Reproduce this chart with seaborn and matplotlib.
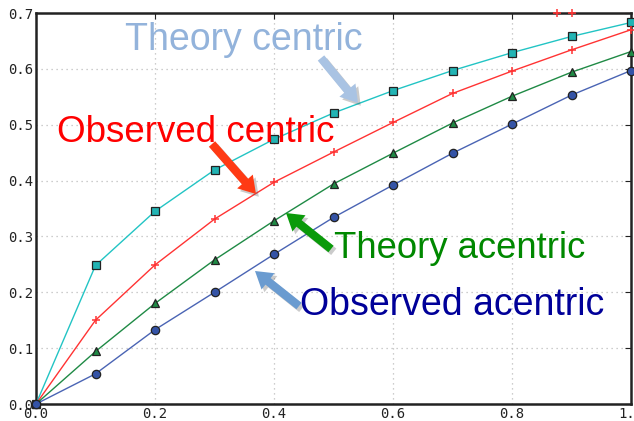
import matplotlib
matplotlib.use("Agg")
import matplotlib.pyplot as plt
import matplotlib.patheffects as pe
import seaborn as sns
import pandas as pd

x_vals = [0.0, 0.1, 0.2, 0.3, 0.4, 0.5, 0.6, 0.7, 0.8, 0.9, 1.0]
theory_centric = [0.0, 0.248, 0.345, 0.419, 0.474, 0.521, 0.561, 0.597, 0.629, 0.658, 0.683]
observed_centric = [0.0, 0.150, 0.249, 0.331, 0.397, 0.451, 0.504, 0.556, 0.596, 0.634, 0.670]
theory_acentric = [0.0, 0.094, 0.180, 0.258, 0.328, 0.394, 0.449, 0.503, 0.551, 0.594, 0.631]
observed_acentric = [0.0, 0.054, 0.133, 0.200, 0.268, 0.334, 0.392, 0.449, 0.501, 0.553, 0.597]
extra_x = [0.875, 0.9]
extra_y = [0.7, 0.7]

x_ticks = [0.0, 0.2, 0.4, 0.6, 0.8, 1.0]
x_tick_labels = ["0.0", "0.2", "0.4", "0.6", "0.8", "1.0"]
y_ticks = [0.0, 0.1, 0.2, 0.3, 0.4, 0.5, 0.6, 0.7]
y_tick_labels = ["0.0", "0.1", "0.2", "0.3", "0.4", "0.5", "0.6", "0.7"]

sns.set_style("white")
plt.rcParams["font.family"] = ["DejaVu Sans"]

fig = plt.figure(figsize=(6.34, 4.21), dpi=100)
ax = fig.add_axes([36 / 634, 17 / 421, 595 / 634, 391 / 421])

df = pd.DataFrame({"x": x_vals})
series = [
    (theory_centric, "#22c4c4", "s", "#22b4b4", 5.5),
    (observed_centric, "#ff3333", "+", "#ff3333", 6),
    (theory_acentric, "#1f8a45", "^", "#1f8a45", 6),
    (observed_acentric, "#4a64b4", "o", "#3453a6", 6),
]
for vals, lc, mk, mfc, ms in series:
    d = df.assign(y=vals)
    edge = mfc if mk == "+" else "#222222"
    sns.lineplot(data=d, x="x", y="y", ax=ax, color=lc, lw=1.0,
                 marker=mk, markersize=ms, markerfacecolor=mfc,
                 markeredgecolor=edge, markeredgewidth=0.9 if mk != "+" else 1.1,
                 clip_on=False, zorder=3)

ax.plot(extra_x, extra_y, "+", color="#ff3333", markersize=6, mew=1.1, clip_on=False, zorder=4)

ax.set_xlim(0, 1.0)
ax.set_ylim(0, 0.7)
ax.set_xticks(x_ticks)
ax.set_xticklabels(x_tick_labels)
ax.set_yticks(y_ticks)
ax.set_yticklabels(y_tick_labels)
ax.set_xlabel("")
ax.set_ylabel("")
for lab in ax.get_xticklabels() + ax.get_yticklabels():
    lab.set_fontfamily("DejaVu Sans Mono")
    lab.set_fontsize(10)
    lab.set_color("#222222")
ax.tick_params(direction="in", length=4, width=0.8, top=True, right=True, pad=2, colors="#222222")
ax.grid(True, ls=(0, (1, 3)), color="#bdbdbd", lw=0.9)
for sp in ax.spines.values():
    sp.set_visible(True)
    sp.set_color("#222222")
    sp.set_linewidth(1.8)

def fxy(px, py):
    return (px / 634, 1 - py / 421)

shadow = [pe.SimplePatchShadow(offset=(2, -2), alpha=0.3, shadow_rgbFace="#555555"), pe.Normal()]
arrows = [
    ((321, 58), (358, 103), "#a9c3e3"),
    ((212, 144), (256, 194), "#ff3a14"),
    ((331, 249), (286, 213), "#0a9a0a"),
    ((299, 306), (255, 271), "#6a9bd0"),
]
for (sx, sy), (ex, ey), c in arrows:
    ax.annotate("", xy=fxy(ex, ey), xycoords="figure fraction",
                xytext=fxy(sx, sy), textcoords="figure fraction",
                arrowprops=dict(arrowstyle="simple,head_width=1.5,head_length=1.2,tail_width=0.6",
                                fc=c, ec="none", path_effects=shadow, shrinkA=0, shrinkB=0),
                annotation_clip=False, zorder=5)

texts = [
    ("Theory centric", 244, 40, "#93b3db", 27),
    ("Observed centric", 196, 132, "#ff0000", 26.5),
    ("Theory acentric", 460, 248, "#008800", 26.3),
    ("Observed acentric", 452, 305, "#000099", 27),
]
for t, px, py, c, fs in texts:
    fig.text(*fxy(px, py), t, ha="center", va="center", fontsize=fs,
             family="Liberation Sans", color=c, zorder=6)

fig.savefig("out.png", dpi=100)
